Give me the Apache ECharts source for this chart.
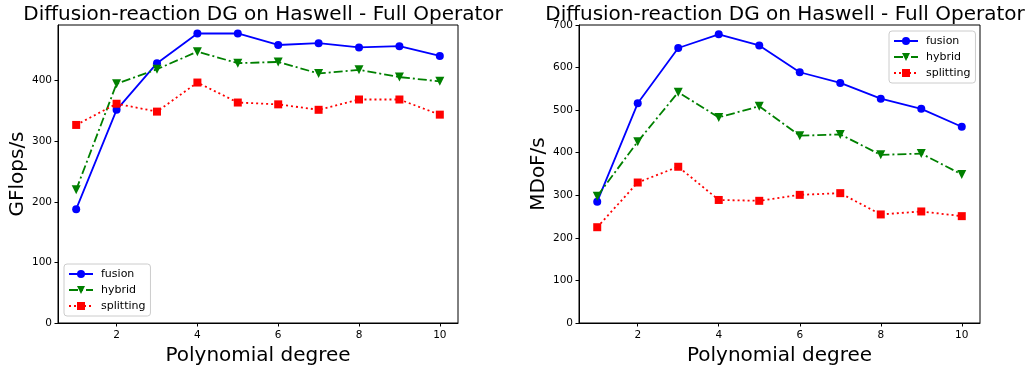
<!DOCTYPE html>
<html lang="en">
<head>
<meta charset="UTF-8">
<title>Diffusion-reaction DG on Haswell</title>
<style>
  html, body { margin: 0; padding: 0; background: #fff; }
</style>
</head>
<body>
<div id="echart" style="width: 1036px; height: 372px;"></div>
<script src="https://cdn.jsdelivr.net/npm/echarts@6/dist/echarts.min.js"></script>
<script>
    var degrees = [1, 2, 3, 4, 5, 6, 7, 8, 9, 10];
    var xTicks = [2, 4, 6, 8, 10];
    var seriesNames = ['fusion', 'hybrid', 'splitting'];

    // GFlops/s (left panel)
    var gflopsFusion = [188, 352, 429, 478, 478, 459, 462, 455, 457, 441];
    var gflopsHybrid = [220, 395, 419, 448, 429, 431, 412, 418, 406, 399];
    var gflopsSplitting = [327, 362, 349, 397, 364, 361, 352, 369, 369, 344];
    var gflopsTicks = [0, 100, 200, 300, 400];

    // MDoF/s (right panel)
    var mdofFusion = [285, 516, 646, 678, 652, 589, 564, 527, 503, 461];
    var mdofHybrid = [298, 426, 542, 483, 509, 440, 443, 395, 398, 349];
    var mdofSplitting = [225, 330, 367, 289, 287, 301, 305, 255, 262, 251];
    var mdofTicks = [0, 100, 200, 300, 400, 500, 600, 700];

    var titleText = 'Diffusion-reaction DG on Haswell - Full Operator';
    var FONT = 'DejaVu Sans';

    function pairs(ys) {
        var res = [];
        for (var i = 0; i < degrees.length; i++) res.push([degrees[i], ys[i]]);
        return res;
    }

    var styles = {
        fusion: { color: '#0000ff', symbol: 'circle', size: 8, rotate: 0, type: 'solid' },
        hybrid: { color: '#008000', symbol: 'triangle', size: 9, rotate: 180, type: [9, 3, 2, 3] },
        splitting: { color: '#ff0000', symbol: 'rect', size: 8, rotate: 0, type: [2, 3] }
    };

    function makeSeries(name, ys, idx) {
        var s = styles[name];
        return {
            name: name,
            type: 'line',
            xAxisIndex: idx,
            yAxisIndex: idx,
            data: pairs(ys),
            symbol: s.symbol,
            symbolSize: s.size,
            symbolRotate: s.rotate,
            showAllSymbol: true,
            animation: false,
            itemStyle: { color: s.color },
            lineStyle: { color: s.color, width: 1.8, type: s.type }
        };
    }

    function xAxisDef(idx) {
        return {
            type: 'value',
            gridIndex: idx,
            min: 0.55,
            max: 10.45,
            name: 'Polynomial degree',
            nameLocation: 'middle',
            nameGap: 21,
            nameTextStyle: { fontFamily: FONT, fontSize: 20, color: '#000', verticalAlign: 'top' },
            splitLine: { show: false },
            axisLine: { show: true, onZero: false, lineStyle: { color: '#000', width: 1 } },
            axisTick: { show: true, inside: false, length: 3.5, customValues: xTicks, lineStyle: { color: '#000' } },
            axisLabel: { customValues: xTicks, margin: 7, fontFamily: FONT, fontSize: 10.5, color: '#000' }
        };
    }

    function yAxisDef(idx, name, max, ticks) {
        return {
            type: 'value',
            gridIndex: idx,
            min: 0,
            max: max,
            name: name,
            nameLocation: 'middle',
            nameGap: 30,
            nameTextStyle: { fontFamily: FONT, fontSize: 20, color: '#000' },
            splitLine: { show: false },
            axisLine: { show: true, lineStyle: { color: '#000', width: 1 } },
            axisTick: { show: true, inside: false, length: 3.5, customValues: ticks, lineStyle: { color: '#000' } },
            axisLabel: { customValues: ticks, margin: 6, fontFamily: FONT, fontSize: 10.5, color: '#000' }
        };
    }

    function legendDef(pos) {
        return Object.assign({
            orient: 'vertical',
            data: seriesNames,
            backgroundColor: 'rgba(255,255,255,0.8)',
            borderColor: '#cccccc',
            borderWidth: 1,
            borderRadius: 3,
            padding: [4, 5, 4, 4],
            itemGap: 4,
            itemWidth: 24,
            itemHeight: 10,
            selectedMode: false,
            textStyle: { fontFamily: FONT, fontSize: 11, color: '#000', lineHeight: 12, padding: [0, 0, 0, 3] }
        }, pos);
    }

    var myChart = echarts.init(document.getElementById('echart'));
    var option = {
        backgroundColor: '#fff',
        animation: false,
        title: [
            { text: titleText, left: 258, top: 0, textAlign: 'center',
              textStyle: { fontFamily: FONT, fontSize: 20, fontWeight: 'normal', color: '#000' } },
            { text: titleText, left: 780, top: 0, textAlign: 'center',
              textStyle: { fontFamily: FONT, fontSize: 20, fontWeight: 'normal', color: '#000' } }
        ],
        legend: [
            legendDef({ left: 64, top: 264 }),
            legendDef({ left: 889, top: 31 })
        ],
        grid: [
            { left: 58, top: 25, width: 400, height: 298, show: true, borderColor: '#000', borderWidth: 1, backgroundColor: 'transparent' },
            { left: 579, top: 25, width: 401, height: 298, show: true, borderColor: '#000', borderWidth: 1, backgroundColor: 'transparent' }
        ],
        xAxis: [xAxisDef(0), xAxisDef(1)],
        yAxis: [
            yAxisDef(0, 'GFlops/s', 492, gflopsTicks),
            yAxisDef(1, 'MDoF/s', 700, mdofTicks)
        ],
        series: [
            makeSeries('fusion', gflopsFusion, 0),
            makeSeries('hybrid', gflopsHybrid, 0),
            makeSeries('splitting', gflopsSplitting, 0),
            makeSeries('fusion', mdofFusion, 1),
            makeSeries('hybrid', mdofHybrid, 1),
            makeSeries('splitting', mdofSplitting, 1)
        ]
    };
    myChart.setOption(option, true);
</script>
</body>
</html>
